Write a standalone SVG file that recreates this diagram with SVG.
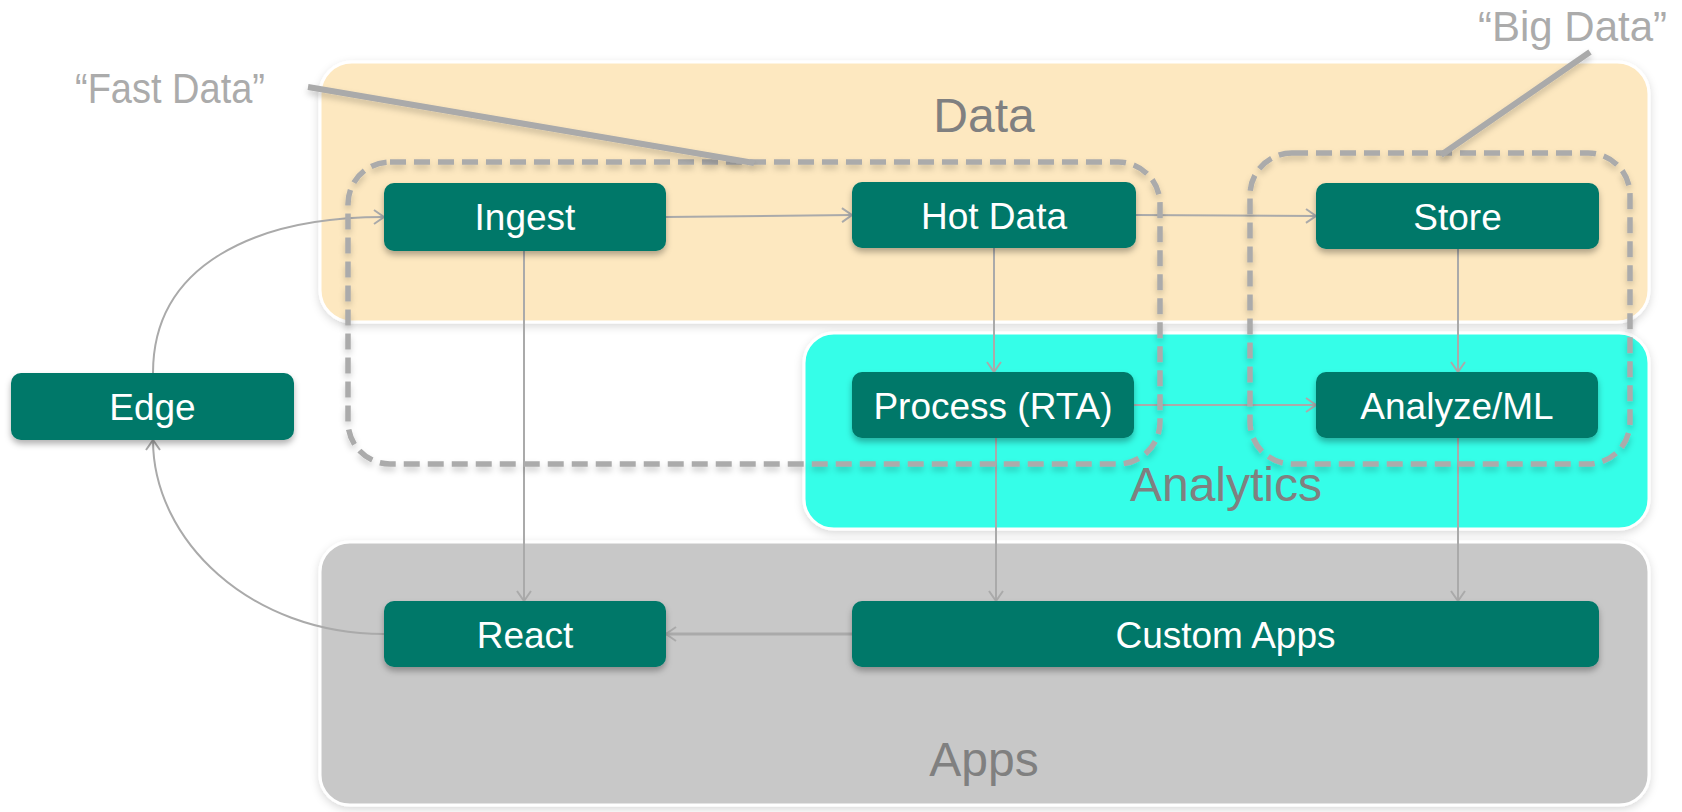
<svg xmlns="http://www.w3.org/2000/svg" width="1682" height="812" viewBox="0 0 1682 812">
<defs>
<style>
.panel{stroke:#ffffff;stroke-width:3}
.node rect{fill:#047869;filter:url(#sh)}
.node text{fill:#ffffff;font-family:"Liberation Sans",Arial,sans-serif;font-size:37px;text-anchor:middle}
.title{fill:#808080;font-family:"Liberation Sans",Arial,sans-serif;font-size:48px;text-anchor:middle}
.callout{fill:#ABABAB;font-family:"Liberation Sans",Arial,sans-serif;font-size:42px}
.conn{fill:none;stroke:#AAAAAA;stroke-width:2;marker-end:url(#arr)}
.dash{fill:none;stroke:#ABABAB;stroke-width:5.5;stroke-dasharray:16 8;filter:url(#sh2)}
.cl{stroke:#AAAAAA;stroke-width:6;filter:url(#sh2)}
</style>
<filter id="sh" x="-10%" y="-20%" width="120%" height="150%">
<feDropShadow dx="0" dy="4" stdDeviation="3" flood-color="#000" flood-opacity="0.3"/>
</filter>
<filter id="sh2" x="-10%" y="-20%" width="120%" height="150%">
<feDropShadow dx="0" dy="4" stdDeviation="3" flood-color="#000" flood-opacity="0.2"/>
</filter>
<filter id="psh" x="-5%" y="-10%" width="110%" height="125%">
<feDropShadow dx="0" dy="3" stdDeviation="4" flood-color="#000" flood-opacity="0.15"/>
</filter>
<marker id="arr" markerUnits="userSpaceOnUse" markerWidth="20" markerHeight="20" viewBox="0 0 20 20" refX="17" refY="10" orient="auto">
<path d="M7,3 L17,10 L7,17" fill="none" stroke="#AAAAAA" stroke-width="2"/>
</marker>
</defs>
<rect width="1682" height="812" fill="#ffffff"/>
<g id="panels">
<rect id="data-panel" class="panel" x="320" y="62" width="1329" height="260" rx="32" fill="#FDE8C0" filter="url(#psh)"/>
<rect id="analytics-panel" class="panel" x="804" y="333" width="845" height="196" rx="30" fill="#35FEE8" filter="url(#psh)"/>
<rect id="apps-panel" class="panel" x="320" y="542" width="1329" height="263" rx="30" fill="#C8C8C8" filter="url(#psh)"/>
<text class="title" x="984" y="132">Data</text>
<text class="title" x="1226" y="501" fill="#8A8A8A">Analytics</text>
<text class="title" x="984" y="776">Apps</text>
</g>
<g id="connectors">
<path class="conn" d="M666,217 L852,215"/>
<path class="conn" d="M1136,215 L1316,216"/>
<path class="conn" d="M994,248 L994,372"/>
<path class="conn" d="M1458,249 L1458,372"/>
<path class="conn" d="M1134,405 L1316,405"/>
<path class="conn" d="M524,251 L524,601"/>
<path class="conn" d="M996,438 L996,601"/>
<path class="conn" d="M1458,438 L1458,601"/>
<path class="conn" d="M852,634 L666,634" style="stroke-width:3"/>
<path class="conn" d="M384,634 C250,634 153,540 153,440"/>
<path class="conn" d="M153,373 C153,265 255,217 384,217"/>
</g>
<g id="groups">
<rect id="fast-data-group" class="dash" x="348" y="162" width="812" height="302" rx="42"/>
<rect id="big-data-group" class="dash" x="1250" y="153" width="380" height="311" rx="42"/>
<line class="cl" x1="308" y1="87" x2="754" y2="163"/>
<line class="cl" x1="1590" y1="52" x2="1441" y2="155"/>
<text class="callout" x="75" y="103" font-size="40" textLength="190" lengthAdjust="spacingAndGlyphs">“Fast Data”</text>
<text class="callout" x="1478" y="41">“Big Data”</text>
</g>
<g id="node-ingest" class="node"><rect x="384" y="183" width="282" height="68" rx="10"/><text x="525" y="230">Ingest</text></g>
<g id="node-hotdata" class="node"><rect x="852" y="182" width="284" height="66" rx="10"/><text x="994" y="228.5">Hot Data</text></g>
<g id="node-store" class="node"><rect x="1316" y="183" width="283" height="66" rx="10"/><text x="1457.5" y="229.5">Store</text></g>
<g id="node-edge" class="node"><rect x="11" y="373" width="283" height="67" rx="10"/><text x="152.5" y="420">Edge</text></g>
<g id="node-process" class="node"><rect x="852" y="372" width="282" height="66" rx="10"/><text x="993" y="418.5">Process (RTA)</text></g>
<g id="node-analyze" class="node"><rect x="1316" y="372" width="282" height="66" rx="10"/><text x="1457" y="418.5">Analyze/ML</text></g>
<g id="node-react" class="node"><rect x="384" y="601" width="282" height="66" rx="10"/><text x="525" y="647.5">React</text></g>
<g id="node-customapps" class="node"><rect x="852" y="601" width="747" height="66" rx="10"/><text x="1225.5" y="647.5">Custom Apps</text></g>
</svg>
